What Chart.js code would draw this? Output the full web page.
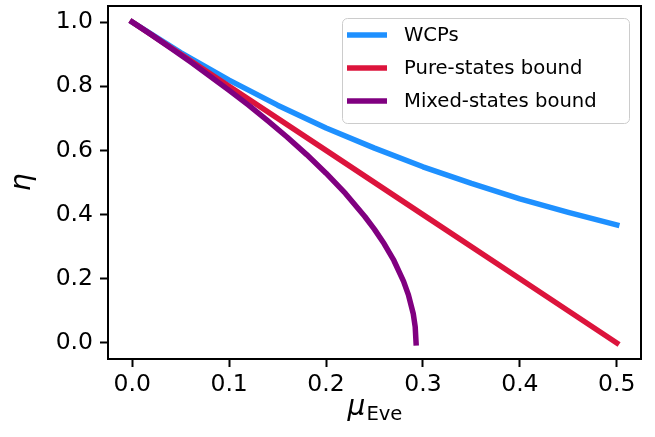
<!DOCTYPE html>
<html><head><meta charset="utf-8">
<script src="https://cdn.jsdelivr.net/npm/chart.js@4.4.0/dist/chart.umd.min.js"></script>
<style>html,body{margin:0;padding:0;background:#fff;}</style>
</head><body>
<canvas id="c" width="655" height="437" style="width:655px;height:437px;display:block"></canvas>
<script>
const seriesLabels = ['WCPs', 'Pure-states bound', 'Mixed-states bound'];
const muWCP  = [0, 0.05, 0.1, 0.15, 0.2, 0.25, 0.3, 0.35, 0.4, 0.45, 0.5];
const etaWCP = [1.0, 0.905, 0.819, 0.741, 0.670, 0.607, 0.549, 0.497, 0.449, 0.407, 0.368];
const muPure  = [0, 0.1, 0.2, 0.3, 0.4, 0.5];
const etaPure = [1.0, 0.8, 0.6, 0.4, 0.2, 0.0];
const muMixed  = [0, 0.02, 0.04, 0.06, 0.08, 0.10, 0.12, 0.14, 0.16, 0.18, 0.20, 0.22, 0.24, 0.25, 0.26, 0.27, 0.28, 0.285, 0.29, 0.292, 0.2929];
const etaMixed = [1.0, 0.960, 0.918, 0.876, 0.832, 0.787, 0.741, 0.692, 0.641, 0.587, 0.529, 0.466, 0.394, 0.354, 0.309, 0.257, 0.192, 0.150, 0.091, 0.050, 0.0];
const xTicks = [0, 0.1, 0.2, 0.3, 0.4, 0.5];
const yTicks = [0, 0.2, 0.4, 0.6, 0.8, 1.0];
const lineColors = ['#1e90ff', '#dc143c', '#800080'];

const FONT = 'DejaVu Sans';
const pts = (xs, ys) => xs.map((x, i) => ({x: x, y: ys[i]}));

function ds(i, xs, ys, order) {
  return {
    label: seriesLabels[i], data: pts(xs, ys), showLine: true,
    borderColor: lineColors[i], backgroundColor: lineColors[i],
    borderWidth: 5.5, pointRadius: 0, pointHoverRadius: 0,
    borderCapStyle: 'square', borderJoinStyle: 'round', tension: 0,
    order: order
  };
}

const framePlugin = {
  id: 'frame',
  afterDraw(chart) {
    const {ctx, chartArea: a} = chart;
    ctx.save();
    ctx.strokeStyle = '#000'; ctx.lineWidth = 2;
    ctx.strokeRect(a.left, a.top, a.right - a.left, a.bottom - a.top);
    ctx.fillStyle = '#000';
    ctx.textBaseline = 'alphabetic';
    const cx = (a.left + a.right) / 2;
    ctx.font = 'italic 28px "' + FONT + '"';
    const wm = ctx.measureText('μ').width;
    ctx.font = '19.6px "' + FONT + '"';
    const we = ctx.measureText('Eve').width;
    const x0 = cx - (wm + we) / 2;
    ctx.font = 'italic 28px "' + FONT + '"';
    ctx.textAlign = 'left';
    ctx.fillText('μ', x0, 415);
    ctx.font = '19.6px "' + FONT + '"';
    ctx.fillText('Eve', x0 + wm + 1, 420);
    ctx.translate(30, (a.top + a.bottom) / 2);
    ctx.rotate(-Math.PI / 2);
    ctx.font = 'italic 28px "' + FONT + '"';
    ctx.textAlign = 'center';
    ctx.fillText('η', 0, 0);
    ctx.restore();

    const bx = 342, by = 18, bw = 287, bh = 105;
    ctx.save();
    ctx.beginPath();
    ctx.roundRect(bx + 0.5, by + 0.5, bw, bh, 5);
    ctx.fillStyle = 'rgba(255,255,255,0.8)';
    ctx.fill();
    ctx.strokeStyle = '#cccccc'; ctx.lineWidth = 1;
    ctx.stroke();
    const rows = [35, 68, 101];
    chart.data.datasets.forEach((d, i) => {
      ctx.beginPath();
      ctx.strokeStyle = d.borderColor; ctx.lineWidth = 5.5; ctx.lineCap = 'butt';
      ctx.moveTo(347, rows[i]); ctx.lineTo(387, rows[i]);
      ctx.stroke();
      ctx.fillStyle = '#000';
      ctx.font = '19.6px "' + FONT + '"';
      ctx.textAlign = 'left'; ctx.textBaseline = 'middle';
      ctx.fillText(d.label, 404, rows[i] + 1);
    });
    ctx.restore();
  }
};

const tickFont = {family: FONT, size: 23.5};

new Chart(document.getElementById('c'), {
  type: 'scatter',
  data: {
    datasets: [
      ds(0, muWCP, etaWCP, 3),
      ds(1, muPure, etaPure, 2),
      ds(2, muMixed, etaMixed, 1)
    ]
  },
  options: {
    responsive: false, animation: false, devicePixelRatio: 1,
    layout: {padding: {top: 6, right: 14, left: 0, bottom: 0}},
    plugins: {legend: {display: false}, tooltip: {enabled: false}},
    scales: {
      x: {
        type: 'linear', min: -0.025, max: 0.525,
        afterBuildTicks: s => { s.ticks = xTicks.map(v => ({value: v})); },
        afterFit: s => { s.height = 78; s.paddingLeft = 0; s.paddingRight = 0; },
        ticks: {callback: v => Number(v).toFixed(1), font: tickFont, color: '#000', padding: 4, maxRotation: 0, autoSkip: false},
        grid: {drawOnChartArea: false, drawTicks: true, tickLength: 8, tickWidth: 2, tickColor: '#000'},
        border: {display: false}
      },
      y: {
        type: 'linear', min: -0.05, max: 1.05,
        afterBuildTicks: s => { s.ticks = yTicks.map(v => ({value: v})); },
        afterFit: s => { s.width = 108; s.paddingTop = 0; s.paddingBottom = 0; },
        ticks: {callback: v => Number(v).toFixed(1), font: tickFont, color: '#000', padding: 7, autoSkip: false},
        grid: {drawOnChartArea: false, drawTicks: true, tickLength: 8, tickWidth: 2, tickColor: '#000'},
        border: {display: false}
      }
    }
  },
  plugins: [framePlugin]
});
</script>
</body></html>
